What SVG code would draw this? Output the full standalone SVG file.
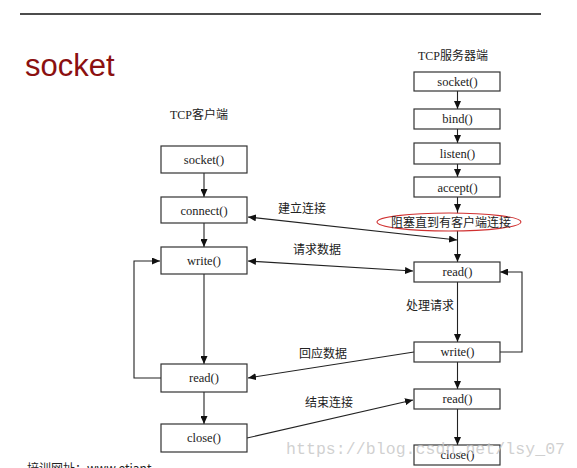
<svg xmlns="http://www.w3.org/2000/svg" width="577" height="468" viewBox="0 0 577 468">
<defs>
<marker id="arr" viewBox="0 0 8 7" refX="8" refY="3.5" markerWidth="8" markerHeight="7" markerUnits="userSpaceOnUse" orient="auto-start-reverse">
<path d="M0,0 L8,3.5 L0,7 z" fill="#111"/>
</marker>
<style>
.box{fill:#fff;stroke:#333;stroke-width:1.2}
.lbl{font-family:"Liberation Serif","Noto Sans CJK SC",serif;font-size:12.5px;fill:#222;text-anchor:middle}
.cn{font-family:"Noto Sans CJK SC","Liberation Sans",sans-serif;font-size:12px;fill:#222}
.ln{stroke:#222;stroke-width:1.1;fill:none}
.ar{marker-end:url(#arr)}
</style>
</defs>
<rect width="577" height="468" fill="#fff"/>
<line x1="20" y1="14" x2="541" y2="14" stroke="#111" stroke-width="1.5"/>
<text x="25" y="76" font-family="Liberation Sans, Arial, sans-serif" font-size="31" fill="#8b1010">socket</text>
<text x="170" y="119" class="lbl" style="text-anchor:start;font-size:12px">TCP客户端</text>
<text x="418" y="60" class="lbl" style="text-anchor:start;font-size:12px">TCP服务器端</text>

<g id="connectors">
<line class="ln ar" x1="204" y1="173" x2="204" y2="197"/>
<line class="ln ar" x1="204" y1="223" x2="204" y2="247"/>
<line class="ln ar" x1="204" y1="274" x2="204" y2="364"/>
<line class="ln ar" x1="204" y1="392" x2="204" y2="424"/>
<polyline class="ln ar" points="161,378 134,378 134,261 160,261"/>
<line class="ln ar" x1="457.5" y1="91" x2="457.5" y2="109"/>
<line class="ln ar" x1="457.5" y1="129" x2="457.5" y2="143"/>
<line class="ln ar" x1="457.5" y1="164" x2="457.5" y2="177"/>
<line class="ln ar" x1="457.5" y1="197" x2="457.5" y2="212"/>
<line class="ln ar" x1="457.5" y1="212" x2="457.5" y2="262"/>
<line class="ln ar" x1="457.5" y1="282" x2="457.5" y2="342"/>
<line class="ln ar" x1="457.5" y1="362" x2="457.5" y2="389"/>
<line class="ln ar" x1="457.5" y1="409" x2="457.5" y2="445"/>
<polyline class="ln ar" points="500,352 522,352 522,272 500,272"/>
<line class="ln ar" x1="457" y1="240" x2="248" y2="217" style="marker-start:url(#arr)"/>
<line class="ln ar" x1="413" y1="271" x2="248" y2="261" style="marker-start:url(#arr)"/>
<line class="ln ar" x1="414" y1="352" x2="248" y2="378"/>
<line class="ln ar" x1="247" y1="438" x2="413" y2="400"/>
<text class="cn" x="278" y="213">建立连接</text>
<text class="cn" x="293" y="254">请求数据</text>
<text class="cn" x="406" y="310">处理请求</text>
<text class="cn" x="299" y="358">回应数据</text>
<text class="cn" x="305" y="407">结束连接</text>
</g>

<g id="c-socket"><rect class="box" x="161" y="146" width="86" height="27"/><text class="lbl" x="204" y="164">socket()</text></g>
<g id="c-connect"><rect class="box" x="161" y="197" width="86" height="26"/><text class="lbl" x="204" y="215">connect()</text></g>
<g id="c-write"><rect class="box" x="161" y="247" width="86" height="27"/><text class="lbl" x="204" y="265">write()</text></g>
<g id="c-read"><rect class="box" x="161" y="364" width="86" height="28"/><text class="lbl" x="204" y="382">read()</text></g>
<g id="c-close"><rect class="box" x="161" y="424" width="86" height="28"/><text class="lbl" x="204" y="442">close()</text></g>

<g id="s-socket"><rect class="box" x="414" y="72" width="86" height="19"/><text class="lbl" x="457.5" y="86">socket()</text></g>
<g id="s-bind"><rect class="box" x="414" y="109" width="86" height="20"/><text class="lbl" x="457.5" y="123">bind()</text></g>
<g id="s-listen"><rect class="box" x="414" y="143" width="86" height="21"/><text class="lbl" x="457.5" y="158">listen()</text></g>
<g id="s-accept"><rect class="box" x="414" y="177" width="86" height="20"/><text class="lbl" x="457.5" y="192">accept()</text></g>
<g id="s-block"><ellipse cx="449" cy="222" rx="72" ry="9" fill="#fff" stroke="#d03030" stroke-width="1.1"/><text class="cn" x="451" y="226.5" text-anchor="middle">阻塞直到有客户端连接</text></g>
<g id="s-read"><rect class="box" x="414" y="262" width="86" height="20"/><text class="lbl" x="457.5" y="276">read()</text></g>
<g id="s-write"><rect class="box" x="414" y="342" width="86" height="20"/><text class="lbl" x="457.5" y="356">write()</text></g>
<g id="s-read2"><rect class="box" x="414" y="389" width="86" height="20"/><text class="lbl" x="457.5" y="403">read()</text></g>
<g id="s-close"><rect class="box" x="414" y="445" width="86" height="20"/><text class="lbl" x="457.5" y="459">close()</text></g>

<text x="286" y="454" font-family="Liberation Mono, monospace" font-size="16.5" fill="#c8c8c8" fill-opacity="0.85" textLength="279">https://blog.csdn.net/lsy_07</text>
<text x="27" y="473" font-family="Noto Sans CJK SC, Liberation Sans, sans-serif" font-size="12" fill="#222">培训网址：www.etiant</text>
</svg>
